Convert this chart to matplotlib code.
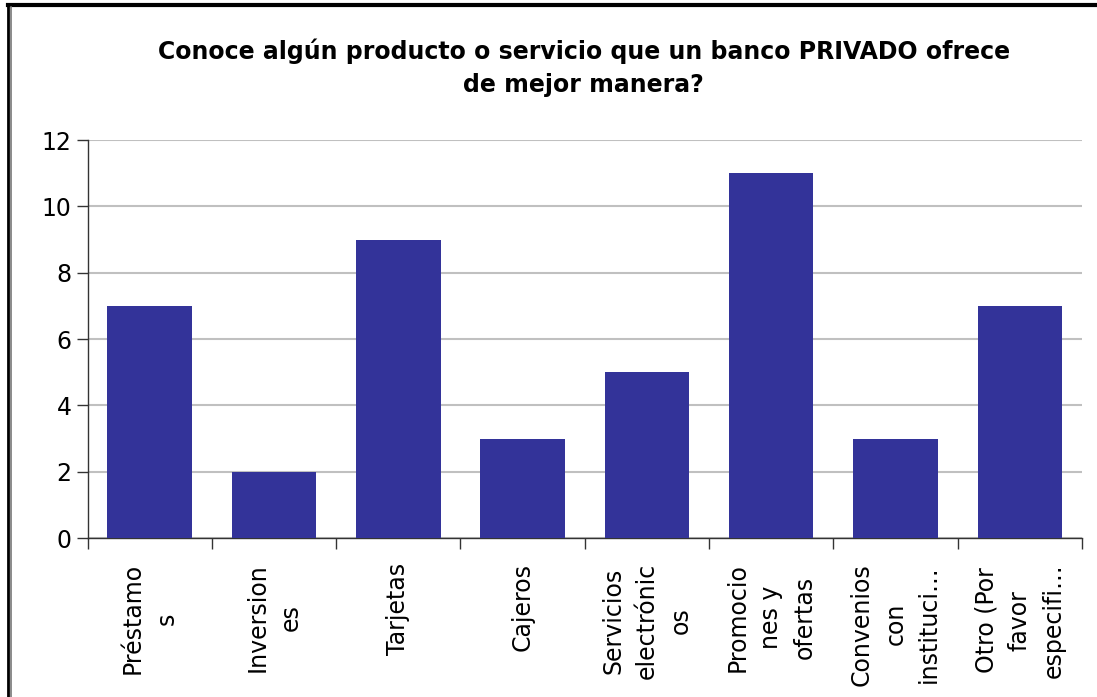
import matplotlib.pyplot as plt
from matplotlib.lines import Line2D

categories = ["Préstamo\ns", "Inversion\nes", "Tarjetas", "Cajeros",
              "Servicios\nelectrónic\nos", "Promocio\nnes y\nofertas",
              "Convenios\ncon\ninstituci…", "Otro (Por\nfavor\nespecifi…"]
counts = [7, 2, 9, 3, 5, 11, 3, 7]
yticks = [0, 2, 4, 6, 8, 10, 12]

fig = plt.figure(figsize=(10.97, 6.97), dpi=100)
ax = fig.add_axes([0.0798, 0.2281, 0.9065, 0.571])

pos = range(len(counts))
ax.bar(pos, counts, width=0.68, color="#333399", zorder=3)

ax.set_xlim(-0.5, len(counts) - 0.5)
ax.set_ylim(0, 12)
ax.set_yticks(yticks)
ax.yaxis.grid(True, color="#c0c0c0", linewidth=1.5, zorder=0)
ax.tick_params(axis="y", labelsize=17, length=8, width=1, color="#333333", pad=3.5)

# category ticks sit between the bars, labels in the middle
ax.set_xticks([i - 0.5 for i in range(len(counts) + 1)])
ax.set_xticklabels([])
ax.tick_params(axis="x", length=8, width=1, color="#333333")
for i, lab in enumerate(categories):
    ax.text(i, -0.75, lab, rotation=90, ha="center", va="top",
            multialignment="center", fontsize=17, linespacing=1.5)

for s in ["top", "right"]:
    ax.spines[s].set_visible(False)
for s in ["left", "bottom"]:
    ax.spines[s].set_color("#333333")
    ax.spines[s].set_linewidth(1)

fig.text(0.532, 0.903, "Conoce algún producto o servicio que un banco PRIVADO ofrece\nde mejor manera?",
         ha="center", va="center", fontsize=17, fontweight="bold", linespacing=1.5)

# outer frame (top and left edges)
fig.add_artist(Line2D([0.007, 1.0], [0.993, 0.993], color="black", linewidth=3))
fig.add_artist(Line2D([0.0073, 0.0073], [0.0, 0.993], color="black", linewidth=2))
fig.add_artist(Line2D([0.0097, 0.0097], [0.0, 0.99], color="#777777", linewidth=1.2))

fig.savefig("out.png", dpi=100)
